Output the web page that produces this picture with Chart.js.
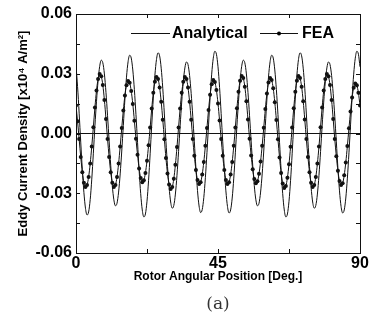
<!DOCTYPE html>
<html>
<head>
<meta charset="utf-8">
<script src="https://cdn.jsdelivr.net/npm/chart.js@4.4.1/dist/chart.umd.min.js"></script>
<style>
  html, body { margin: 0; padding: 0; background: #fff; }
  #wrap { position: relative; width: 372px; height: 329px; }
</style>
</head>
<body>
<div id="wrap"><canvas id="eddyChart"></canvas></div>
<script>
// Rotor angular position [deg], 0.5 deg step
const angles = [
  0, 0.5, 1, 1.5, 2, 2.5, 3, 3.5, 4, 4.5, 5, 5.5, 6, 6.5, 7, 7.5, 8, 8.5,
  9, 9.5, 10, 10.5, 11, 11.5, 12, 12.5, 13, 13.5, 14, 14.5, 15, 15.5, 16, 16.5, 17, 17.5,
  18, 18.5, 19, 19.5, 20, 20.5, 21, 21.5, 22, 22.5, 23, 23.5, 24, 24.5, 25, 25.5, 26, 26.5,
  27, 27.5, 28, 28.5, 29, 29.5, 30, 30.5, 31, 31.5, 32, 32.5, 33, 33.5, 34, 34.5, 35, 35.5,
  36, 36.5, 37, 37.5, 38, 38.5, 39, 39.5, 40, 40.5, 41, 41.5, 42, 42.5, 43, 43.5, 44, 44.5,
  45, 45.5, 46, 46.5, 47, 47.5, 48, 48.5, 49, 49.5, 50, 50.5, 51, 51.5, 52, 52.5, 53, 53.5,
  54, 54.5, 55, 55.5, 56, 56.5, 57, 57.5, 58, 58.5, 59, 59.5, 60, 60.5, 61, 61.5, 62, 62.5,
  63, 63.5, 64, 64.5, 65, 65.5, 66, 66.5, 67, 67.5, 68, 68.5, 69, 69.5, 70, 70.5, 71, 71.5,
  72, 72.5, 73, 73.5, 74, 74.5, 75, 75.5, 76, 76.5, 77, 77.5, 78, 78.5, 79, 79.5, 80, 80.5,
  81, 81.5, 82, 82.5, 83, 83.5, 84, 84.5, 85, 85.5, 86, 86.5, 87, 87.5, 88, 88.5, 89, 89.5,
  90
];

// Eddy current density [x10^4 A/m^2]
const analytical = [
  0.0340, 0.0235, 0.0102, -0.0043, -0.0180, -0.0295, -0.0375, -0.0409, -0.0394, -0.0332, -0.0229, -0.0099, 0.0039, 0.0162, 0.0265, 0.0337, 0.0368, 0.0355,
  0.0299, 0.0206, 0.0089, -0.0038, -0.0159, -0.0262, -0.0333, -0.0363, -0.0350, -0.0294, -0.0203, -0.0088, 0.0041, 0.0173, 0.0283, 0.0360, 0.0393, 0.0379,
  0.0319, 0.0220, 0.0095, -0.0044, -0.0184, -0.0302, -0.0384, -0.0419, -0.0404, -0.0340, -0.0235, -0.0102, 0.0043, 0.0178, 0.0292, 0.0371, 0.0405, 0.0390,
  0.0328, 0.0227, 0.0098, -0.0039, -0.0165, -0.0270, -0.0344, -0.0375, -0.0361, -0.0304, -0.0210, -0.0091, 0.0038, 0.0158, 0.0259, 0.0329, 0.0359, 0.0346,
  0.0291, 0.0201, 0.0087, -0.0042, -0.0174, -0.0286, -0.0364, -0.0397, -0.0382, -0.0322, -0.0222, -0.0096, 0.0043, 0.0181, 0.0298, 0.0378, 0.0413, 0.0398,
  0.0335, 0.0231, 0.0100, -0.0042, -0.0175, -0.0288, -0.0366, -0.0399, -0.0384, -0.0324, -0.0224, -0.0097, 0.0039, 0.0162, 0.0265, 0.0337, 0.0368, 0.0355,
  0.0299, 0.0206, 0.0089, -0.0038, -0.0159, -0.0262, -0.0333, -0.0363, -0.0350, -0.0294, -0.0203, -0.0088, 0.0041, 0.0173, 0.0283, 0.0360, 0.0393, 0.0379,
  0.0319, 0.0220, 0.0095, -0.0044, -0.0184, -0.0302, -0.0384, -0.0419, -0.0404, -0.0340, -0.0235, -0.0102, 0.0043, 0.0178, 0.0292, 0.0371, 0.0405, 0.0390,
  0.0328, 0.0227, 0.0098, -0.0039, -0.0165, -0.0270, -0.0344, -0.0375, -0.0361, -0.0304, -0.0210, -0.0091, 0.0038, 0.0158, 0.0259, 0.0329, 0.0359, 0.0346,
  0.0291, 0.0201, 0.0087, -0.0042, -0.0175, -0.0288, -0.0366, -0.0399, -0.0384, -0.0324, -0.0224, -0.0097, 0.0043, 0.0181, 0.0298, 0.0378, 0.0413, 0.0398,
  0.0335
];

const fea = [
  0.0140, 0.0061, -0.0028, -0.0118, -0.0194, -0.0247, -0.0269, -0.0259, -0.0218, -0.0151, -0.0065, 0.0032, 0.0131, 0.0216, 0.0274, 0.0299, 0.0288, 0.0243,
  0.0168, 0.0073, -0.0028, -0.0118, -0.0194, -0.0247, -0.0269, -0.0259, -0.0218, -0.0151, -0.0065, 0.0028, 0.0116, 0.0191, 0.0242, 0.0264, 0.0255, 0.0214,
  0.0148, 0.0064, -0.0026, -0.0107, -0.0176, -0.0224, -0.0245, -0.0235, -0.0198, -0.0137, -0.0059, 0.0030, 0.0125, 0.0205, 0.0260, 0.0284, 0.0274, 0.0231,
  0.0159, 0.0069, -0.0029, -0.0123, -0.0201, -0.0256, -0.0279, -0.0269, -0.0227, -0.0157, -0.0068, 0.0030, 0.0125, 0.0205, 0.0260, 0.0284, 0.0274, 0.0231,
  0.0159, 0.0069, -0.0027, -0.0112, -0.0183, -0.0233, -0.0254, -0.0245, -0.0206, -0.0143, -0.0062, 0.0028, 0.0118, 0.0194, 0.0247, 0.0269, 0.0259, 0.0218,
  0.0151, 0.0065, -0.0027, -0.0112, -0.0183, -0.0233, -0.0254, -0.0245, -0.0206, -0.0143, -0.0062, 0.0030, 0.0127, 0.0209, 0.0265, 0.0289, 0.0279, 0.0235,
  0.0162, 0.0070, -0.0026, -0.0110, -0.0180, -0.0229, -0.0250, -0.0240, -0.0202, -0.0140, -0.0061, 0.0029, 0.0123, 0.0201, 0.0256, 0.0279, 0.0269, 0.0227,
  0.0157, 0.0068, -0.0029, -0.0120, -0.0198, -0.0251, -0.0274, -0.0264, -0.0222, -0.0154, -0.0067, 0.0030, 0.0127, 0.0209, 0.0265, 0.0289, 0.0279, 0.0235,
  0.0162, 0.0070, -0.0028, -0.0118, -0.0194, -0.0247, -0.0269, -0.0259, -0.0218, -0.0151, -0.0065, 0.0032, 0.0131, 0.0216, 0.0274, 0.0299, 0.0288, 0.0243,
  0.0168, 0.0073, -0.0027, -0.0114, -0.0187, -0.0238, -0.0259, -0.0250, -0.0210, -0.0145, -0.0063, 0.0026, 0.0110, 0.0181, 0.0230, 0.0251, 0.0242, 0.0204,
  0.0141
];

// Tick labels and tick marks
const xTicks = [0, 45, 90];
const yTicks = [-0.06, -0.03, 0, 0.03, 0.06];
const xTickMarks = [0, 22.5, 45, 67.5, 90];
const yTickMarks = [-0.06, -0.045, -0.03, -0.015, 0, 0.015, 0.03, 0.045, 0.06];

const seriesNames = ["Analytical", "FEA"];
const caption = "(a)";

const SANS = "'Liberation Sans', Arial, sans-serif";
const INK = "#111";

//Frame, inner ticks, legend and caption
const framePlugin = {
    id: "frame",
    afterDatasetsDraw(chart) {
        const { ctx, chartArea } = chart;
        const { left, right, top, bottom } = chartArea;
        const xs = chart.scales.x;
        const ys = chart.scales.y;

        ctx.save();
        ctx.strokeStyle = INK;
        ctx.lineWidth = 1;
        ctx.strokeRect(Math.round(left) + 0.5, Math.round(top) + 0.5, Math.round(right - left), Math.round(bottom - top));

        ctx.beginPath();
        xTickMarks.forEach(v => {
            const px = Math.round(xs.getPixelForValue(v)) + 0.5;
            ctx.moveTo(px, bottom);
            ctx.lineTo(px, bottom - 4);
            ctx.moveTo(px, top);
            ctx.lineTo(px, top + 4);
        });
        yTickMarks.forEach(v => {
            const py = Math.round(ys.getPixelForValue(v)) + 0.5;
            ctx.moveTo(left, py);
            ctx.lineTo(left + 4, py);
            ctx.moveTo(right, py);
            ctx.lineTo(right - 4, py);
        });
        ctx.stroke();

        //Legend
        const ly = top + 19.5;
        ctx.font = "bold 16px " + SANS;
        ctx.fillStyle = "#000";
        ctx.textBaseline = "middle";
        ctx.textAlign = "left";

        ctx.beginPath();
        ctx.moveTo(left + 55, ly);
        ctx.lineTo(left + 94, ly);
        ctx.stroke();
        ctx.fillText(seriesNames[0], left + 96, ly);

        ctx.beginPath();
        ctx.moveTo(left + 184, ly);
        ctx.lineTo(left + 222, ly);
        ctx.stroke();
        ctx.beginPath();
        ctx.arc(left + 203, ly, 2, 0, Math.PI * 2);
        ctx.fill();
        ctx.fillText(seriesNames[1], left + 226, ly);

        //Caption
        ctx.font = "17px 'DejaVu Serif', 'Liberation Serif', serif";
        ctx.fillStyle = "#333";
        ctx.textAlign = "center";
        ctx.fillText(caption, (left + right) / 2, 305);
        ctx.restore();
    }
};

const toPoints = values => values.map((v, i) => ({ x: angles[i], y: v }));

new Chart(document.getElementById("eddyChart"), {
    type: "line",
    data: {
        datasets: [
            {
                label: seriesNames[0],
                data: toPoints(analytical),
                borderColor: INK,
                borderWidth: 1,
                pointRadius: 0,
                cubicInterpolationMode: "monotone",
                fill: false
            },
            {
                label: seriesNames[1],
                data: toPoints(fea),
                borderColor: INK,
                backgroundColor: INK,
                borderWidth: 1,
                pointRadius: 2,
                pointBorderWidth: 0,
                pointBackgroundColor: INK,
                cubicInterpolationMode: "monotone",
                fill: false
            }
        ]
    },
    options: {
        responsive: true,
        maintainAspectRatio: false,
        animation: false,
        layout: { padding: { left: 0, right: 12, top: 14, bottom: 0 } },
        plugins: {
            legend: { display: false },
            tooltip: { enabled: false }
        },
        scales: {
            x: {
                type: "linear",
                min: 0,
                max: 90,
                afterFit: scale => { scale.height = 76; },
                afterBuildTicks: scale => { scale.ticks = xTicks.map(v => ({ value: v })); },
                grid: { display: false, drawTicks: false, tickLength: 0 },
                border: { display: false },
                ticks: {
                    autoSkip: false,
                    maxRotation: 0,
                    padding: 1,
                    color: "#000",
                    font: { family: SANS, size: 16, weight: "bold" },
                    callback: v => String(v)
                },
                title: {
                    display: true,
                    text: "Rotor Angular Position [Deg.]",
                    color: "#000",
                    font: { family: SANS, size: 12, weight: "bold" },
                    padding: { top: 0, bottom: 45 }
                }
            },
            y: {
                type: "linear",
                min: -0.06,
                max: 0.06,
                afterFit: scale => { scale.width = 76; },
                afterBuildTicks: scale => { scale.ticks = yTicks.map(v => ({ value: v })); },
                grid: {
                    drawTicks: false,
                    tickLength: 0,
                    drawOnChartArea: true,
                    lineWidth: 1,
                    color: c => (c.tick && Math.abs(c.tick.value) < 1e-9 ? INK : "rgba(0,0,0,0)")
                },
                border: { display: false },
                ticks: {
                    autoSkip: false,
                    padding: 4,
                    color: "#000",
                    font: { family: SANS, size: 16, weight: "bold" },
                    callback: v => (Math.abs(v) < 1e-9 ? "0.00" : v.toFixed(2))
                },
                title: {
                    display: true,
                    text: "Eddy Current Density [x10\u2074 A/m\u00B2]",
                    color: "#000",
                    font: { family: SANS, size: 13, weight: "bold" },
                    padding: { top: 16, bottom: 0 }
                }
            }
        }
    },
    plugins: [framePlugin]
});
</script>
</body>
</html>
